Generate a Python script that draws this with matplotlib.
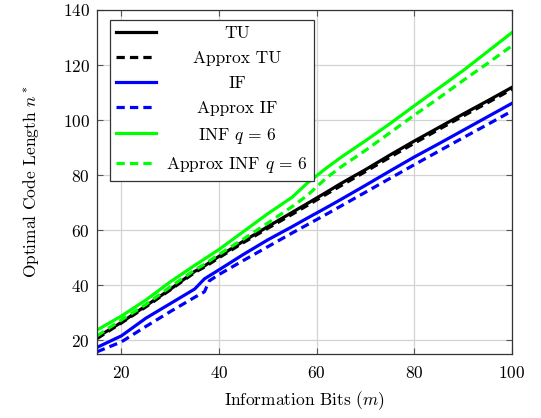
import matplotlib
matplotlib.use("Agg")
import matplotlib.pyplot as plt

plt.rcParams['font.family'] = ['cmr10', 'DejaVu Serif']
plt.rcParams['mathtext.fontset'] = 'cm'
plt.rcParams['axes.formatter.use_mathtext'] = True
plt.rcParams['font.size'] = 12.5

# Data
m = [15, 20, 25, 30, 35, 37, 38, 40, 45, 50, 55, 58, 62, 65, 70, 75, 80, 85, 90, 95, 100]
tu        = [21.1, 26.5, 32.5, 38.5, 45.0, 47.0, 48.2, 50.5, 56.0, 61.3, 66.5, 69.6, 73.8, 77.0, 82.0, 87.3, 92.4, 97.3, 102.2, 107.0, 111.9]
approx_tu = [20.6, 26.3, 32.1, 38.3, 44.6, 46.6, 47.7, 50.0, 55.5, 60.7, 65.8, 68.9, 73.1, 76.2, 81.3, 86.5, 91.6, 96.6, 101.5, 106.3, 111.2]
if_       = [17.4, 21.6, 28.0, 33.3, 38.6, 42.3, 43.4, 45.6, 51.2, 56.5, 61.3, 64.3, 68.2, 71.2, 76.3, 81.5, 86.6, 91.4, 96.3, 101.2, 106.1]
approx_if = [15.8, 19.4, 25.0, 30.4, 35.6, 37.6, 41.6, 43.9, 49.0, 54.0, 59.0, 61.9, 65.8, 68.8, 73.8, 78.8, 83.8, 88.7, 93.6, 98.4, 103.3]
inf6      = [23.7, 28.8, 34.6, 41.2, 47.2, 49.5, 50.7, 53.0, 59.5, 66.0, 72.0, 77.0, 82.6, 86.5, 92.5, 98.7, 105.2, 111.6, 118.0, 124.9, 131.8]
approx_inf6 = [21.6, 27.4, 33.0, 39.4, 45.5, 47.6, 48.8, 51.2, 56.8, 62.6, 68.6, 72.5, 79.0, 83.0, 89.0, 95.4, 101.8, 108.0, 114.4, 120.6, 127.0]

labels = ['TU', 'Approx TU', 'IF', 'Approx IF', r'INF $q\,=\,6$', r'Approx INF $q\,=\,6$']
series = [tu, approx_tu, if_, approx_if, inf6, approx_inf6]
colors = ['#000000', '#000000', '#0000ff', '#0000ff', '#00ff00', '#00ff00']
styles = ['-', (0, (2.6, 1.6)), '-', (0, (2.6, 1.6)), '-', (0, (2.6, 1.6))]

fig = plt.figure(figsize=(5.41, 4.18), dpi=100)
ax = fig.add_axes([97/541, 1-354/418, (512-97)/541, (354-10)/418])

for y, lab, c, ls in zip(series, labels, colors, styles):
    ax.plot(m, y, color=c, linestyle=ls, linewidth=2.3, label=lab)

ax.set_xlim(15, 100)
ax.set_ylim(15, 140)
ax.set_xticks([20, 40, 60, 80, 100])
ax.set_yticks([20, 40, 60, 80, 100, 120, 140])
ax.grid(True, color='#d3d3d3', linewidth=0.9)
ax.set_axisbelow(True)
ax.tick_params(direction='in', length=4, color='#555555', top=True, right=True,
               labelsize=12.5, width=0.8)
ax.tick_params(axis='x', pad=8)
ax.tick_params(axis='y', pad=5)
for s in ax.spines.values():
    s.set_color('#333333')
    s.set_linewidth(0.9)

ax.set_xlabel(r'Information Bits ($m$)', fontsize=12.5, labelpad=6)
ax.set_ylabel(r'Optimal Code Length $n^*$', fontsize=12.5, labelpad=16)

leg = ax.legend(loc='upper left', bbox_to_anchor=(0.031, 0.971), borderaxespad=0,
                fancybox=False, framealpha=1, edgecolor='#333333',
                handlelength=2.3, labelspacing=0.55, handletextpad=0.6,
                borderpad=0.35, fontsize=12.5)
leg.get_frame().set_linewidth(0.9)

# center legend labels (pgfplots style)
fig.canvas.draw()
renderer = fig.canvas.get_renderer()
exts = [t.get_window_extent(renderer) for t in leg.get_texts()]
left = min(e.x0 for e in exts)
right = max(e.x1 for e in exts)
cx = (left + right) / 2
for t, e in zip(leg.get_texts(), exts):
    cy = (e.y0 + e.y1) / 2
    ax.annotate(t.get_text(), xy=(cx, cy), xycoords='figure pixels',
                ha='center', va='center', fontsize=12.5, zorder=10)
    t.set_alpha(0)

fig.savefig('out.png', dpi=100)
